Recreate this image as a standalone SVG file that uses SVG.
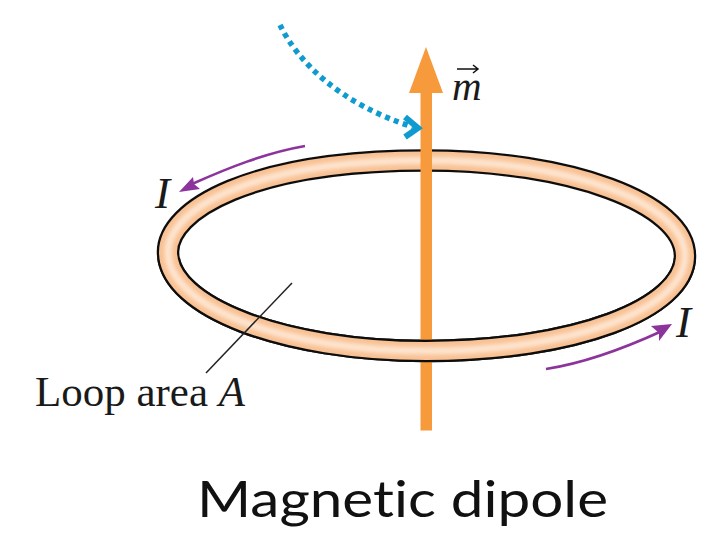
<svg xmlns="http://www.w3.org/2000/svg" width="722" height="534" viewBox="0 0 722 534">
<style>
.band{fill:none}
.edge{stroke:#111;stroke-width:22.5}
.fill{stroke:#f8c193;stroke-width:18}
.glow{stroke:#fee6d2;stroke-width:7}
.serif{font-family:"Liberation Serif","Times New Roman",serif;fill:#1a1a1a}
.purple{fill:none;stroke:#8c339c;stroke-width:2.6}
.pf{fill:#8c339c}
.orange{fill:#f79a3c}
.blue{fill:none;stroke:#0f9bd0}
</style>
<defs>
<filter id="soft" x="-5%" y="-15%" width="110%" height="130%"><feGaussianBlur stdDeviation="2"/></filter>
<filter id="edgeSoft" x="-5%" y="-15%" width="110%" height="130%"><feGaussianBlur stdDeviation="0.5"/></filter>
<clipPath id="frontHalf"><rect x="0" y="258" width="722" height="276"/></clipPath>
<path id="ringPath" d="M168 252C168 210 250 160.500 426 160.500C569 160.500 685 203 685 256C685 309 574 351 426 351C284 351 168 307 168 252Z"/>
<g id="ring">
<use href="#ringPath" class="band edge" filter="url(#edgeSoft)"/>
<use href="#ringPath" class="band fill"/>
<use href="#ringPath" class="band glow" filter="url(#soft)"/>
</g>
</defs>
<rect width="722" height="534" fill="#fff"/>
<g id="loop"><use href="#ring"/></g>
<g id="moment-arrow">
<rect class="orange" x="420.500" y="90" width="11.500" height="340.500"/>
<polygon class="orange" points="426,47 443,93 409,93"/>
</g>
<g id="loop-front" clip-path="url(#frontHalf)"><use href="#ring"/></g>
<g id="moment-label">
<text class="serif" x="452" y="100" font-size="41" font-style="italic">m</text>
<path d="M457 69H478M473 65L478 69L473 73" stroke="#111" stroke-width="1.500" fill="none"/>
</g>
<g id="connectors">
<path class="blue" d="M280 25C298 62 340 104 413 127" stroke-width="5.500" stroke-dasharray="5 4.500"/>
<path class="blue" d="M405 117L418 128L405 137" stroke-width="6"/>
<path class="purple" d="M305 146C265 153 228 168 192 184"/>
<polygon class="pf" points="179,192 193,177 194,184 200,189"/>
<path class="purple" d="M546 369C585 363 625 348 662 331"/>
<polygon class="pf" points="672,324 659,341 659,333 651,326"/>
<path d="M292 283L206 373" fill="none" stroke="#222" stroke-width="1.500"/>
</g>
<g id="labels">
<text class="serif" x="155" y="208" font-size="45" font-style="italic">I</text>
<text class="serif" x="676" y="337" font-size="45" font-style="italic">I</text>
<text class="serif" x="35" y="406" font-size="43" textLength="210" lengthAdjust="spacingAndGlyphs">Loop area <tspan font-style="italic">A</tspan></text>
<text x="197" y="517" font-size="50" textLength="411" lengthAdjust="spacingAndGlyphs" font-family="Lato, Carlito, sans-serif" fill="#111" style="font-variant-ligatures:none">Magnetic dipole</text>
</g>
</svg>
